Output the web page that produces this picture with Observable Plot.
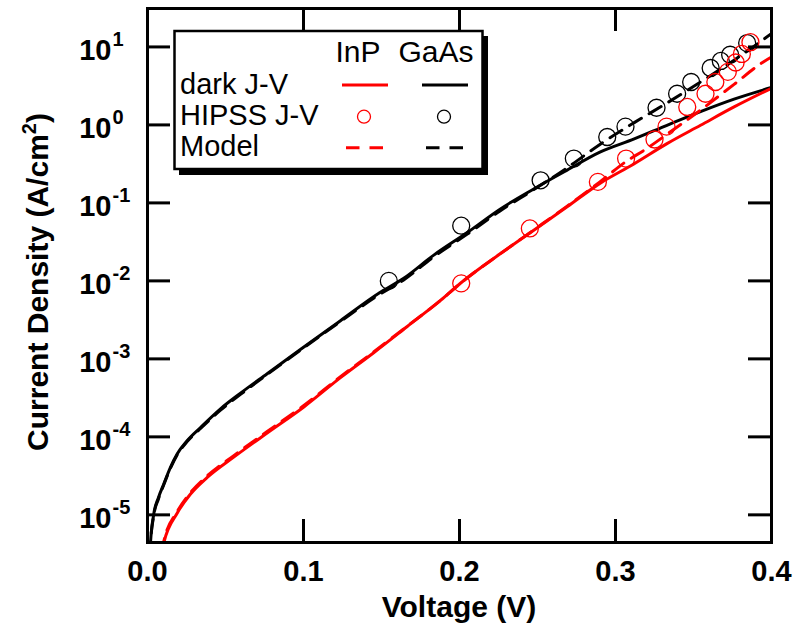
<!DOCTYPE html>
<html>
<head>
<meta charset="utf-8">
<script src="https://cdn.jsdelivr.net/npm/d3@7"></script>
<script src="https://cdn.jsdelivr.net/npm/@observablehq/plot@0.6"></script>
<style>
  html, body { margin: 0; padding: 0; background: white; }
</style>
</head>
<body>
<script>
// ---------- data ----------
const xTicks = [0, 0.1, 0.2, 0.3, 0.4];
const yTicks = [1e-5, 1e-4, 1e-3, 1e-2, 1e-1, 1, 10];

// GaAs dark J-V (black solid)
const gaasDarkV = [0.0010, 0.0018, 0.0040, 0.0070, 0.0105, 0.0145, 0.0190, 0.0254, 0.0340, 0.0468, 0.0596, 0.0767, 0.0980, 0.1237, 0.1490, 0.1640, 0.1835, 0.2050, 0.2260, 0.2476, 0.2690, 0.2900, 0.3120, 0.3330, 0.3545, 0.3760, 0.4000];
const gaasDarkJ = [1.6e-6, 4.0e-6, 1.02e-5, 1.66e-5, 2.51e-5, 3.98e-5, 6.03e-5, 8.91e-5, 1.32e-4, 2.29e-4, 3.63e-4, 6.46e-4, 1.32e-3, 3.09e-3, 7.08e-3, 1.07e-2, 2.14e-2, 4.17e-2, 8.32e-2, 0.151, 0.263, 0.447, 0.661, 0.989, 1.48, 2.14, 3.02];

// InP dark J-V (red solid)
const inpDarkV = [0.0090, 0.0105, 0.0190, 0.0276, 0.0383, 0.0553, 0.0767, 0.1000, 0.1237, 0.1450, 0.1665, 0.1878, 0.2006, 0.2263, 0.2476, 0.2690, 0.2900, 0.3118, 0.3330, 0.3545, 0.3760, 0.4000];
const inpDarkJ = [3.2e-6, 4.4e-6, 1.05e-5, 1.85e-5, 3.02e-5, 5.50e-5, 1.12e-4, 2.40e-4, 5.75e-4, 1.20e-3, 2.60e-3, 5.62e-3, 9.33e-3, 2.24e-2, 4.47e-2, 8.91e-2, 0.178, 0.316, 0.575, 0.989, 1.70, 2.95];

// GaAs model (black dashed)
const gaasModelV = [0.0010, 0.0018, 0.0040, 0.0070, 0.0105, 0.0145, 0.0190, 0.0254, 0.0340, 0.0468, 0.0596, 0.0767, 0.0980, 0.1237, 0.1490, 0.1640, 0.1835, 0.2050, 0.2260, 0.2476, 0.2690, 0.2900, 0.3120, 0.3330, 0.3545, 0.3760, 0.4000];
const gaasModelJ = [1.5e-6, 3.9e-6, 9.8e-6, 1.60e-5, 2.45e-5, 3.89e-5, 5.89e-5, 8.7e-5, 1.28e-4, 2.2e-4, 3.5e-4, 6.3e-4, 1.29e-3, 3.02e-3, 6.76e-3, 1.02e-2, 2.04e-2, 3.98e-2, 7.9e-2, 0.148, 0.282, 0.562, 1.07, 1.91, 3.55, 6.76, 14.8];

// InP model (red dashed)
const inpModelV = [0.0090, 0.0105, 0.0190, 0.0276, 0.0383, 0.0553, 0.0767, 0.1000, 0.1237, 0.1450, 0.1665, 0.1878, 0.2006, 0.2263, 0.2476, 0.2690, 0.2900, 0.3075, 0.3180, 0.3350, 0.3545, 0.3760, 0.3950, 0.4000];
const inpModelJ = [3.3e-6, 4.6e-6, 1.10e-5, 1.93e-5, 3.16e-5, 5.75e-5, 1.17e-4, 2.50e-4, 5.9e-4, 1.23e-3, 2.63e-3, 5.6e-3, 9.3e-3, 2.24e-2, 4.5e-2, 9.1e-2, 0.186, 0.347, 0.468, 0.81, 1.55, 3.31, 6.46, 7.41];

// HIPSS J-V points
const inpHipssV = [0.2011, 0.2451, 0.2887, 0.3068, 0.3250, 0.3327, 0.3460, 0.3577, 0.3640, 0.3720, 0.3770, 0.3810, 0.3865];
const inpHipssJ = [9.3e-3, 0.047, 0.186, 0.37, 0.65, 0.95, 1.70, 2.51, 3.55, 4.79, 6.31, 8.13, 11.5];
const gaasHipssV = [0.1547, 0.2011, 0.2520, 0.2733, 0.2947, 0.3064, 0.3263, 0.3395, 0.3485, 0.3610, 0.3675, 0.3735, 0.3844];
const gaasHipssJ = [0.0100, 0.051, 0.195, 0.37, 0.70, 0.95, 1.66, 2.51, 3.55, 5.37, 6.61, 7.94, 11.2];

// legend texts
const legendCols = ["InP", "GaAs"];
const legendColors = ["#ff0000", "#000000"];
const legendRows = ["dark J-V", "HIPSS J-V", "Model"];
const xTitle = "Voltage (V)";
const yTitleParts = ["Current Density (A/cm", "2", ")"];

// ---------- build ----------
const rows = (V, J) => V.map((v, i) => ({v, j: J[i]}));
const W = 795, H = 634, mL = 147, mR = 24, mT = 8, mB = 92;
const innerW = W - mL - mR, innerH = H - mT - mB;
const tick = 23;
const FONT = "'Liberation Sans', Arial, Helvetica, sans-serif";
const RED = legendColors[0], BLK = legendColors[1];

const svg = Plot.plot({
  width: W, height: H,
  marginLeft: mL, marginRight: mR, marginTop: mT, marginBottom: mB,
  x: {domain: [0, 0.4], label: null},
  y: {type: "log", domain: [4.42e-6, 31.1], label: null},
  style: {fontFamily: FONT, fontSize: "29px", fontWeight: "bold", background: "white", color: "black", overflow: "visible"},
  marks: [
    Plot.line(rows(gaasDarkV, gaasDarkJ), {x: "v", y: "j", stroke: BLK, strokeWidth: 3, curve: "monotone-x", clip: true}),
    Plot.line(rows(inpDarkV, inpDarkJ), {x: "v", y: "j", stroke: RED, strokeWidth: 3, curve: "monotone-x", clip: true}),
    Plot.line(rows(gaasModelV, gaasModelJ), {x: "v", y: "j", stroke: BLK, strokeWidth: 3, strokeDasharray: "14,9", curve: "monotone-x", clip: true}),
    Plot.line(rows(inpModelV, inpModelJ), {x: "v", y: "j", stroke: RED, strokeWidth: 3, strokeDasharray: "14,9", curve: "monotone-x", clip: true}),
    Plot.dot(rows(gaasHipssV, gaasHipssJ), {x: "v", y: "j", r: 8.5, stroke: BLK, strokeWidth: 1.3, fill: "none"}),
    Plot.dot(rows(inpHipssV, inpHipssJ), {x: "v", y: "j", r: 8.5, stroke: RED, strokeWidth: 1.3, fill: "none"}),
    // inward ticks
    Plot.ruleX(xTicks, {x: d => d, insetTop: innerH - tick, stroke: BLK, strokeWidth: 3}),
    Plot.ruleX(xTicks, {x: d => d, insetBottom: innerH - tick, stroke: BLK, strokeWidth: 3}),
    Plot.ruleY(yTicks, {y: d => d, insetRight: innerW - tick, stroke: BLK, strokeWidth: 3}),
    Plot.ruleY(yTicks, {y: d => d, insetLeft: innerW - tick, stroke: BLK, strokeWidth: 3}),
    Plot.frame({stroke: BLK, strokeWidth: 3}),
    Plot.axisX(xTicks, {tickSize: 0, tickPadding: 18, tickFormat: d3.format(".1f"), label: null}),
    Plot.axisY(yTicks, {tickSize: 0, tickPadding: 36, dy: 4, tickFormat: d => String(Math.round(Math.log10(d))), label: null})
  ]
});

const s = d3.select(svg);

// superscript tick labels on the y axis
s.selectAll('g[aria-label="y-axis tick label"] text').each(function () {
  const e = this.textContent;
  const x0 = +(this.getAttribute("x") || 0);
  const t = d3.select(this);
  t.text(null);
  t.append("tspan").text("10");
  t.append("tspan").attr("x", x0 + 1).attr("dy", -14)
    .attr("text-anchor", "start").style("font-size", "20px").text(e);
});

// axis titles
s.append("text")
  .attr("x", mL + innerW / 2).attr("y", 617)
  .attr("text-anchor", "middle")
  .style("font-family", FONT).style("font-size", "30px").style("font-weight", "bold")
  .attr("fill", "black")
  .text(xTitle);

const yt = s.append("text")
  .attr("transform", "translate(48,282) rotate(-90)")
  .attr("text-anchor", "middle")
  .style("font-family", FONT).style("font-size", "30px").style("font-weight", "bold")
  .attr("fill", "black");
yt.append("tspan").text(yTitleParts[0]);
yt.append("tspan").attr("dy", -12).style("font-size", "20px").text(yTitleParts[1]);
yt.append("tspan").attr("dy", 12).text(yTitleParts[2]);

// legend
const L = s.append("g").style("font-family", FONT).style("font-size", "29px").style("font-weight", "normal");
L.append("rect").attr("x", 179).attr("y", 36).attr("width", 309).attr("height", 139).attr("fill", "black");
L.append("rect").attr("x", 174.5).attr("y", 31).attr("width", 308).attr("height", 138)
  .attr("fill", "white").attr("stroke", "black").attr("stroke-width", 2.5);
const colX = [365, 445];
const headX = [358, 436];
legendCols.forEach((c, i) => {
  L.append("text").attr("x", headX[i]).attr("y", 62).attr("text-anchor", "middle").attr("fill", "black")
    .style("font-size", "30px").text(c);
  L.append("line").attr("x1", colX[i] - 23).attr("x2", colX[i] + 23).attr("y1", 85).attr("y2", 85)
    .attr("stroke", legendColors[i]).attr("stroke-width", 3);
  L.append("circle").attr("cx", colX[i] - 1).attr("cy", 116.7).attr("r", 6.5)
    .attr("fill", "none").attr("stroke", legendColors[i]).attr("stroke-width", 1.3);
  L.append("line").attr("x1", colX[i] - 19).attr("x2", colX[i] + 18).attr("y1", 147.7).attr("y2", 147.7)
    .attr("stroke", legendColors[i]).attr("stroke-width", 3).attr("stroke-dasharray", "13.5,10");
});
const rowY = [93.5, 124.5, 155.5];
legendRows.forEach((r, i) => {
  L.append("text").attr("x", 180).attr("y", rowY[i]).attr("text-anchor", "start").attr("fill", "black").text(r);
});

document.body.appendChild(svg);
</script>
</body>
</html>
